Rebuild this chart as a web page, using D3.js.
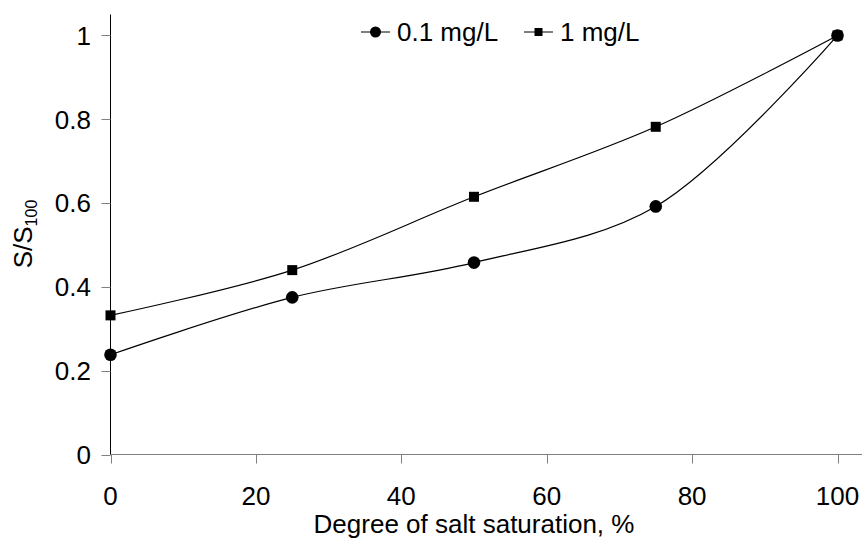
<!DOCTYPE html>
<html>
<head>
<meta charset="utf-8">
<script src="https://cdn.jsdelivr.net/npm/d3@7"></script>
<style>
    body { margin: 0; background: #fff; }
    text { font-family: Arial, "Liberation Sans", sans-serif; fill: #000; }
</style>
</head>
<body>
<svg width="862" height="540"></svg>
<script>

// values
var saturation = [0, 25, 50, 75, 100];
var low = [0.238, 0.375, 0.458, 0.592, 1];      // 0.1 mg/L
var high = [0.332, 0.44, 0.615, 0.782, 1];      // 1 mg/L
var xTicks = [0, 20, 40, 60, 80, 100];
var yTicks = [0, 0.2, 0.4, 0.6, 0.8, 1];
var seriesNames = ["0.1 mg/L", "1 mg/L"];

//setup the SVG canvas
var svg = d3.select("svg"),
    width = +svg.attr("width"),
    height = +svg.attr("height");

var x = d3.scaleLinear().domain([0, 100]).range([110.5, 837.5]);
var y = d3.scaleLinear().domain([0, 1.05]).range([454.5, 14.5]);

var fontSize = 26;

// x axis (grey line, ticks pointing down)
svg.append("line")
    .attr("x1", x(0)).attr("x2", width)
    .attr("y1", y(0)).attr("y2", y(0))
    .attr("stroke", "#808080");

svg.selectAll(".xtick")
    .data(xTicks)
    .enter().append("line")
    .attr("class", "xtick")
    .attr("x1", d => Math.round(x(d)) + 0.5).attr("x2", d => Math.round(x(d)) + 0.5)
    .attr("y1", y(0)).attr("y2", y(0) + 9)
    .attr("stroke", "#808080");

svg.selectAll(".xlabel")
    .data(xTicks)
    .enter().append("text")
    .attr("class", "xlabel")
    .attr("x", d => x(d))
    .attr("y", 505)
    .attr("text-anchor", "middle")
    .style("font-size", fontSize + "px")
    .text(d => d);

// y axis (black line, grey ticks pointing left)
svg.append("line")
    .attr("x1", x(0)).attr("x2", x(0))
    .attr("y1", y(0)).attr("y2", y(1.05))
    .attr("stroke", "#000");

svg.selectAll(".ytick")
    .data(yTicks)
    .enter().append("line")
    .attr("class", "ytick")
    .attr("x1", x(0) - 9).attr("x2", x(0))
    .attr("y1", d => Math.round(y(d)) + 0.5).attr("y2", d => Math.round(y(d)) + 0.5)
    .attr("stroke", "#808080");

svg.selectAll(".ylabel")
    .data(yTicks)
    .enter().append("text")
    .attr("class", "ylabel")
    .attr("x", 91)
    .attr("y", d => y(d))
    .attr("dy", "0.36em")
    .attr("text-anchor", "end")
    .style("font-size", fontSize + "px")
    .text(d => d);

// axis titles
svg.append("text")
    .attr("x", 474)
    .attr("y", 533)
    .attr("text-anchor", "middle")
    .style("font-size", fontSize + "px")
    .text("Degree of salt saturation, %");

var yTitle = svg.append("text")
    .attr("transform", "translate(32,234) rotate(-90)")
    .attr("text-anchor", "middle")
    .style("font-size", fontSize + "px");
yTitle.append("tspan").text("S/S");
yTitle.append("tspan")
    .attr("dy", 5)
    .style("font-size", "16px")
    .text("100");

// smoothed series lines
var line = d3.line()
    .x(d => x(d[0]))
    .y(d => y(d[1]))
    .curve(d3.curveCatmullRom.alpha(0.5));

var lowPts = saturation.map((s, i) => [s, low[i]]);
var highPts = saturation.map((s, i) => [s, high[i]]);

[lowPts, highPts].forEach(function (pts) {
    svg.append("path")
        .datum(pts)
        .attr("d", line)
        .attr("fill", "none")
        .attr("stroke", "#000")
        .attr("stroke-width", 1.2);
});

// markers
svg.selectAll(".sq")
    .data(highPts)
    .enter().append("rect")
    .attr("class", "sq")
    .attr("x", d => x(d[0]) - 5)
    .attr("y", d => y(d[1]) - 5)
    .attr("width", 10)
    .attr("height", 10)
    .attr("fill", "#000");

svg.selectAll(".dot")
    .data(lowPts)
    .enter().append("circle")
    .attr("class", "dot")
    .attr("cx", d => x(d[0]))
    .attr("cy", d => y(d[1]))
    .attr("r", 6.3)
    .attr("fill", "#000");

// legend
var legend = svg.append("g").attr("class", "legend");
var legendX = [361, 524];

legendX.forEach(function (lx, i) {
    legend.append("line")
        .attr("x1", lx).attr("x2", lx + 29)
        .attr("y1", 32).attr("y2", 32)
        .attr("stroke", "#000");
    if (i == 0) {
        legend.append("circle")
            .attr("cx", lx + 14.5).attr("cy", 32).attr("r", 5.5)
            .attr("fill", "#000");
    } else {
        legend.append("rect")
            .attr("x", lx + 10.5).attr("y", 28).attr("width", 8).attr("height", 8)
            .attr("fill", "#000");
    }
    legend.append("text")
        .attr("x", lx + 36)
        .attr("y", 32)
        .attr("dy", "0.36em")
        .style("font-size", fontSize + "px")
        .text(seriesNames[i]);
});

</script>
</body>
</html>
